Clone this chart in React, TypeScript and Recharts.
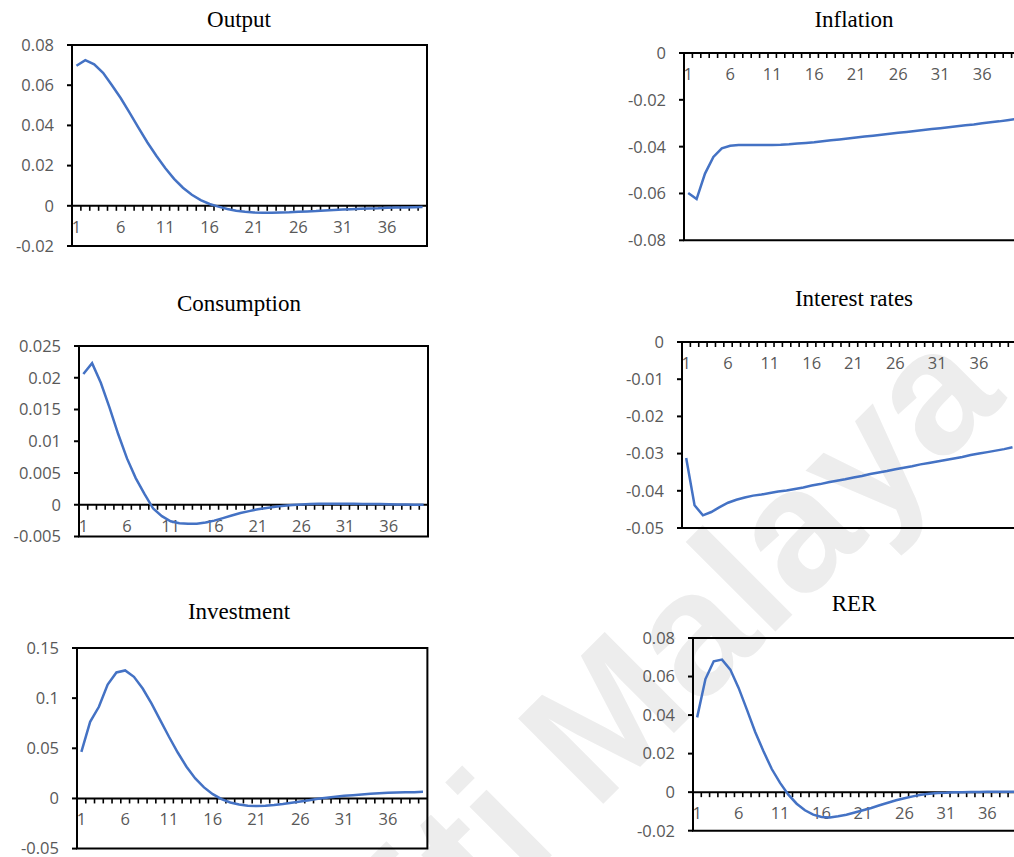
import React from 'react';
import { LineChart, Line, XAxis, YAxis, ReferenceLine, ReferenceArea } from 'recharts';

// ---------- data ----------
const periods = [
  1, 2, 3, 4, 5, 6, 7, 8, 9, 10, 11, 12, 13, 14, 15, 16, 17, 18, 19, 20,
  21, 22, 23, 24, 25, 26, 27, 28, 29, 30, 31, 32, 33, 34, 35, 36, 37, 38, 39, 40,
];
const periodLabels = [1, 6, 11, 16, 21, 26, 31, 36];

const outputValues = [
  0.0697, 0.0725, 0.0704, 0.0662, 0.06, 0.0535, 0.0462, 0.0388, 0.0315, 0.0249,
  0.0188, 0.0134, 0.009, 0.0055, 0.0028, 0.0009, -0.0004, -0.0016, -0.0025, -0.003,
  -0.0033, -0.0034, -0.0034, -0.0033, -0.0032, -0.003, -0.0028, -0.0026, -0.0023, -0.0021,
  -0.0019, -0.0017, -0.0015, -0.0013, -0.0012, -0.001, -0.0009, -0.0008, -0.0007, -0.0006,
];
const inflationValues = [
  -0.0598, -0.0624, -0.0515, -0.0444, -0.0407, -0.0396, -0.0393, -0.0393, -0.0393, -0.0393,
  -0.0393, -0.0392, -0.039, -0.0387, -0.0384, -0.0381, -0.0377, -0.0373, -0.0369, -0.0365,
  -0.0361, -0.0357, -0.0353, -0.0349, -0.0345, -0.0341, -0.0337, -0.0333, -0.0329, -0.0325,
  -0.0321, -0.0317, -0.0313, -0.0309, -0.0305, -0.03, -0.0296, -0.0292, -0.0287, -0.0282,
];
const consumptionValues = [
  0.0206, 0.0223, 0.0192, 0.0153, 0.0111, 0.0073, 0.0042, 0.0017, -0.0006, -0.0018,
  -0.0026, -0.0029, -0.003, -0.003, -0.0028, -0.0025, -0.0021, -0.0017, -0.0013, -0.001,
  -0.0007, -0.0005, -0.0003, -0.00015, -0.00005, 0.00005, 0.0001, 0.00015, 0.00015, 0.00015,
  0.00015, 0.00015, 0.00013, 0.0001, 0.0001, 0.00008, 0.00005, 0.00003, 0.00001, 0,
];
const interestValues = [
  -0.0312, -0.0439, -0.0466, -0.0457, -0.0444, -0.0432, -0.0424, -0.0418, -0.0413, -0.041,
  -0.0406, -0.0402, -0.0399, -0.0395, -0.0391, -0.0386, -0.0382, -0.0377, -0.0373, -0.0369,
  -0.0364, -0.036, -0.0355, -0.0351, -0.0347, -0.0342, -0.0338, -0.0334, -0.0329, -0.0325,
  -0.0321, -0.0317, -0.0313, -0.0309, -0.0304, -0.03, -0.0296, -0.0292, -0.0288, -0.0283,
];
const investmentValues = [
  0.0465, 0.0764, 0.0914, 0.1136, 0.1256, 0.1276, 0.1213, 0.1096, 0.0947, 0.0781,
  0.0615, 0.0458, 0.0316, 0.0199, 0.011, 0.0043, -0.0007, -0.004, -0.006, -0.0073,
  -0.0076, -0.0073, -0.0066, -0.0056, -0.0043, -0.003, -0.0017, -0.0003, 0.0007, 0.0017,
  0.0027, 0.0033, 0.004, 0.0047, 0.0053, 0.0056, 0.006, 0.0061, 0.0063, 0.0066,
];
const rerValues = [
  0.0388, 0.0587, 0.0679, 0.0688, 0.0636, 0.0541, 0.0428, 0.0312, 0.0212, 0.012,
  0.0048, -0.0013, -0.006, -0.0094, -0.0117, -0.0129, -0.0131, -0.0125, -0.0117, -0.0106,
  -0.0094, -0.0082, -0.0068, -0.0055, -0.0042, -0.0032, -0.0022, -0.0013, -0.0008, -0.0004,
  -0.0003, -0.0001, 0, 0.0001, 0.0001, 0.0002, 0.0002, 0.0002, 0.0002, 0.0002,
];

const outputTicks = [-0.02, 0, 0.02, 0.04, 0.06, 0.08];
const inflationTicks = [-0.08, -0.06, -0.04, -0.02, 0];
const consumptionTicks = [-0.005, 0, 0.005, 0.01, 0.015, 0.02, 0.025];
const interestTicks = [-0.05, -0.04, -0.03, -0.02, -0.01, 0];
const investmentTicks = [-0.05, 0, 0.05, 0.1, 0.15];
const rerTicks = [-0.02, 0, 0.02, 0.04, 0.06, 0.08];

const titles = ['Output', 'Inflation', 'Consumption', 'Interest rates', 'Investment', 'RER'];
const watermarkText = 'Universiti Malaya';

// ---------- styles / layout ----------
const LINE_COLOR = '#4472C4';
const LABEL_COLOR = '#595959';
const LABEL_FONT = '"Open Sans", sans-serif';
const LABEL_SIZE = 16.5;
const TITLE_FONT = '"Liberation Serif", "Times New Roman", serif';

type Box = { left: number; top: number; right: number; bottom: number };
type PanelDef = {
  title: string;
  values: number[];
  ticks: number[];
  plot: Box;
  titleX: number;
  titleY: number;
};

const panels: PanelDef[] = [
  { title: titles[0], values: outputValues, ticks: outputTicks, plot: { left: 72, top: 45, right: 427, bottom: 246 }, titleX: 239, titleY: 27 },
  { title: titles[1], values: inflationValues, ticks: inflationTicks, plot: { left: 684, top: 52.7, right: 1020, bottom: 240 }, titleX: 854, titleY: 27 },
  { title: titles[2], values: consumptionValues, ticks: consumptionTicks, plot: { left: 78.7, top: 346, right: 427.7, bottom: 536.5 }, titleX: 239, titleY: 311 },
  { title: titles[3], values: interestValues, ticks: interestTicks, plot: { left: 682.3, top: 341.7, right: 1017, bottom: 527.7 }, titleX: 854, titleY: 306 },
  { title: titles[4], values: investmentValues, ticks: investmentTicks, plot: { left: 77.3, top: 647.7, right: 427.7, bottom: 848.3 }, titleX: 239, titleY: 619 },
  { title: titles[5], values: rerValues, ticks: rerTicks, plot: { left: 693.3, top: 638.3, right: 1025, bottom: 831 }, titleX: 854, titleY: 611 },
];

// category axis drawn along the y = 0 reference line (Excel style)
const makeCategoryAxis = (count: number, labels: number[]) => (p: any) => {
  const { x1, x2, y1 } = p;
  const step = (x2 - x1) / count;
  const marks = [];
  for (let i = 1; i < count; i++) {
    const x = x1 + i * step;
    marks.push(<line key={'m' + i} x1={x} x2={x} y1={y1} y2={y1 + 5} stroke="#000" strokeWidth={1.6} />);
  }
  const texts = labels.map((l) => (
    <text
      key={'l' + l}
      x={x1 + (periods.indexOf(l) + 0.5) * step}
      y={y1 + 21}
      dy="0.355em"
      textAnchor="middle"
      fill={LABEL_COLOR}
      fontSize={LABEL_SIZE}
      fontFamily={LABEL_FONT}
    >
      {l}
    </text>
  ));
  return (
    <g>
      <line x1={x1} x2={x2} y1={y1} y2={y1} stroke="#000" strokeWidth={2} />
      {marks}
      {texts}
    </g>
  );
};

const Y_AXIS_W = 75;
const MARGIN = { top: 20, right: 10, bottom: 20, left: 0 };

function Panel({ def }: { def: PanelDef }) {
  const { plot, ticks, values } = def;
  const data = periods.map((t, i) => ({ t, v: values[i] }));
  const chartX = plot.left - Y_AXIS_W - MARGIN.left;
  const chartY = plot.top - MARGIN.top;
  const width = plot.right - chartX + MARGIN.right;
  const height = plot.bottom - plot.top + MARGIN.top + MARGIN.bottom;
  const yMin = ticks[0];
  const yMax = ticks[ticks.length - 1];
  const xMin = periods[0] - 0.5;
  const xMax = periods[periods.length - 1] + 0.5;
  return (
    <div style={{ position: 'absolute', left: chartX, top: chartY }}>
      <LineChart width={width} height={height} data={data} margin={MARGIN}>
        <XAxis dataKey="t" type="number" domain={[xMin, xMax]} allowDataOverflow hide />
        <YAxis
          type="number"
          domain={[yMin, yMax]}
          allowDataOverflow
          ticks={ticks}
          interval={0}
          width={Y_AXIS_W}
          tickFormatter={(v: number) => String(v)}
          axisLine={{ stroke: '#000', strokeWidth: 2 }}
          tickLine={{ stroke: '#000', strokeWidth: 2 }}
          tickSize={5}
          tickMargin={13}
          tick={{ fill: LABEL_COLOR, fontSize: LABEL_SIZE, fontFamily: LABEL_FONT }}
        />
        <ReferenceArea x1={xMin} x2={xMax} y1={yMin} y2={yMax} fill="none" fillOpacity={0} stroke="#000" strokeWidth={2} strokeOpacity={1} />
        <ReferenceLine y={0} shape={makeCategoryAxis(periods.length, periodLabels)} />
        <Line
          type="linear"
          dataKey="v"
          stroke={LINE_COLOR}
          strokeWidth={2.5}
          dot={false}
          activeDot={false}
          isAnimationActive={false}
        />
      </LineChart>
    </div>
  );
}

export default function App() {
  return (
    <div
      style={{
        position: 'absolute',
        left: 0,
        top: 0,
        width: 1014,
        height: 857,
        overflow: 'hidden',
        background: '#fff',
      }}
    >
      <svg width={1014} height={857} style={{ position: 'absolute', left: 0, top: 0 }}>
        <text
          x={-3.4}
          y={1410.4}
          transform="rotate(-45 -3.4 1410.4)"
          fontSize={175}
          fontWeight="bold"
          fontFamily='"Liberation Sans", Arial, sans-serif'
          fill="#ededed"
        >
          {watermarkText}
        </text>
        {panels.map((p) => (
          <text
            key={p.title}
            x={p.titleX}
            y={p.titleY}
            textAnchor="middle"
            fontSize={23}
            fontFamily={TITLE_FONT}
            fill="#000"
          >
            {p.title}
          </text>
        ))}
      </svg>
      {panels.map((p) => (
        <Panel key={p.title} def={p} />
      ))}
    </div>
  );
}
